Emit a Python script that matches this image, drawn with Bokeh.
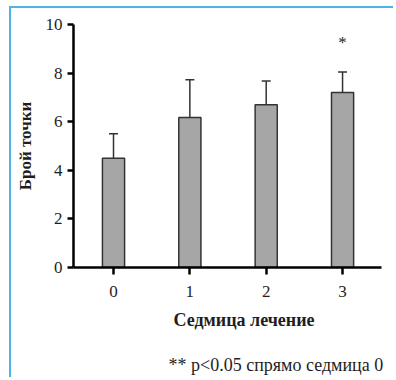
from bokeh.plotting import figure
from bokeh.models import Range1d, Whisker, TeeHead, ColumnDataSource, Title, FixedTicker, Spacer
from bokeh.layouts import column, row
from bokeh.embed import file_html
from bokeh.resources import INLINE

weeks = [0, 1, 2, 3]
week_labels = ["0", "1", "2", "3"]
means = [4.5, 6.17, 6.7, 7.2]
upper = [5.5, 7.73, 7.68, 8.05]
sig_week = [3]
sig_mark = ["*"]
sig_y = [9.25]
y_ticks = [0, 2, 4, 6, 8, 10]

FONT = "Liberation Serif"
INK = "#1e1e1e"

p = figure(width=384, height=371, output_backend="svg", toolbar_location=None,
           x_range=Range1d(-0.524, 3.51), y_range=Range1d(0, 10),
           min_border_left=62, min_border_right=14, min_border_top=16, min_border_bottom=0)
p.styles = {"border-top": "2px solid #4fb3e6", "border-left": "2px solid #4fb3e6"}
p.outline_line_color = None
p.xgrid.visible = False
p.ygrid.visible = False

src = ColumnDataSource(dict(x=weeks, top=means, up=upper))
p.vbar(x="x", top="top", bottom=0, width=0.29, source=src,
       fill_color="#a6a6a6", line_color="#333333", line_width=1.5)
w = Whisker(base="x", lower="top", upper="up", source=src, dimension="height",
            line_color="#333333", line_width=1.5, lower_head=None,
            upper_head=TeeHead(size=9, line_color="#333333", line_width=1.5))
p.add_layout(w)

p.text(x=sig_week, y=sig_y, text=sig_mark, text_align="center", text_baseline="middle",
       text_font_size="17px", text_color=INK, text_font={"value": FONT})

xa = p.xaxis[0]
xa.ticker = FixedTicker(ticks=weeks)
xa.major_label_overrides = {w_: l for w_, l in zip(weeks, week_labels)}
ya = p.yaxis[0]
ya.ticker = FixedTicker(ticks=y_ticks)
for ax in (xa, ya):
    ax.axis_line_width = 2.5
    ax.axis_line_color = "black"
    ax.major_tick_line_width = 2.5
    ax.major_tick_line_color = "black"
    ax.minor_tick_line_color = None
    ax.major_tick_in = 0
    ax.major_label_text_font = FONT
    ax.major_label_text_font_size = "17px"
    ax.major_label_text_color = INK
xa.major_tick_out = 7
ya.major_tick_out = 6
xa.major_label_standoff = 11
ya.major_label_standoff = 5
ya.axis_label = "Брой точки"
ya.axis_label_text_font = FONT
ya.axis_label_text_font_style = "bold"
ya.axis_label_text_font_size = "17px"
ya.axis_label_text_color = INK
ya.axis_label_standoff = 8

t1 = Title(text="Седмица лечение", align="left", offset=100, standoff=16,
           text_font=FONT, text_font_style="bold", text_font_size="18px", text_color=INK)
gap = Title(text=" ", align="left", standoff=7, text_font=FONT, text_font_size="1px")
t2 = Title(text="** p<0.05 спрямо седмица 0", align="left", offset=95, standoff=10,
           text_font=FONT, text_font_style="normal", text_font_size="18px", text_color=INK)
p.add_layout(t1, "below")
p.add_layout(gap, "below")
p.add_layout(t2, "below")

layout = column(Spacer(height=6), row(Spacer(width=9), p))
open("out.html", "w").write(file_html(layout, INLINE))
